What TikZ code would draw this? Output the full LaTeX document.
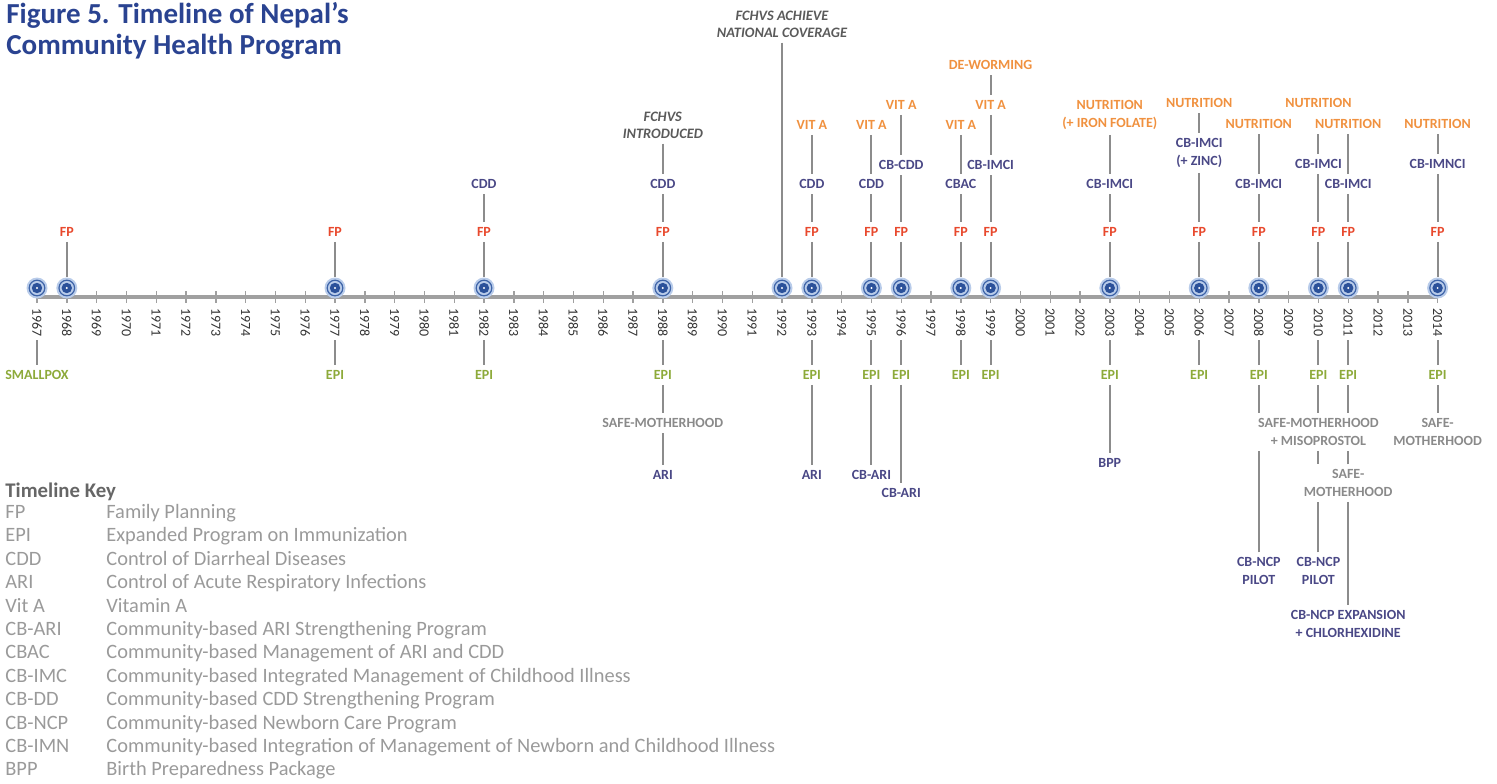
\documentclass[tikz,border=0pt]{standalone}
\usepackage{fontspec}
\setmainfont{Carlito}
\usetikzlibrary{calc}

\definecolor{fpred}{HTML}{E8492D}
\definecolor{vitorange}{HTML}{F0913F}
\definecolor{progpurple}{HTML}{4A4886}
\definecolor{epigreen}{HTML}{8DAA3A}
\definecolor{smgray}{HTML}{8A8A8A}
\definecolor{fchvgray}{HTML}{5A5A5A}
\definecolor{stemgray}{HTML}{8C8C8C}
\definecolor{axisgray}{HTML}{A0A0A0}
\definecolor{titleblue}{HTML}{2A4391}
\definecolor{keygray}{HTML}{9A9A9A}
\definecolor{keyhead}{HTML}{666666}
\definecolor{dotbg}{HTML}{B9CCEA}
\definecolor{dotring}{HTML}{3E64A8}
\definecolor{dotcore}{HTML}{2B519A}

\begin{document}
\begin{tikzpicture}[x=0.5pt, y=-0.5pt,
    every node/.style={font=\fontsize{7}{8.7}\selectfont\bfseries, inner sep=2.5pt, align=center},
    stem/.style={draw=stemgray, line width=1pt},
    fplab/.style={text=fpred},
    epilab/.style={text=epigreen},
    vitlab/.style={text=vitorange},
    cblab/.style={text=progpurple},
    smlab/.style={text=smgray},
    fchvlab/.style={text=fchvgray, font=\fontsize{7.2}{8.5}\selectfont\bfseries\itshape},
    yearlab/.style={rotate=-90, anchor=west, inner sep=1.5pt, text=black!80, font=\fontsize{7}{7}\selectfont},
    yeardot/.style={circle, minimum size=10.5pt, inner sep=0pt, fill=dotbg,
      path picture={
        \draw[dotring, line width=0.6pt] (path picture bounding box.center) circle (3.9pt);
        \fill[dotcore] (path picture bounding box.center) circle (2.6pt);
        \fill[white] (path picture bounding box.center) circle (0.55pt);}},
    titlelab/.style={font=\fontsize{14.5}{15.5}\selectfont\bfseries, text=titleblue, align=left, inner sep=0pt},
    keyitem/.style={font=\fontsize{10.2}{11}\selectfont, text=keygray, inner sep=0pt},
  ]
  \useasboundingbox (0,0) rectangle (1497,783);

  \node[titlelab, anchor=north west] (title) at (6,2) {Figure 5. Timeline of Nepal’s\\Community Health Program};

  \foreach \yr in {1967,...,2014} {
    \coordinate (y\yr) at ({37+(\yr-1967)*29.8},297);
    \node[yearlab] (yl\yr) at (y\yr |- 0,305) {\yr};
  }
  \draw[axisgray, line width=1.6pt] (y1967) -- (y2014);
  \foreach \yr in {1967,...,2014}
    \draw[axisgray, line width=0.7pt] ([yshift=3pt]y\yr) -- ([yshift=-3pt]y\yr);

  \foreach \yr in {1967,1968,1977,1982,1988,1992,1993,1995,1996,1998,1999,2003,2006,2008,2010,2011,2014}
    \node[yeardot] (d\yr) at (y\yr |- 0,288) {};

  \foreach \yr in {1968,1977,1982,1988,1993,1995,1996,1998,1999,2003,2006,2008,2010,2011,2014} {
    \node[fplab] (fp\yr) at (y\yr |- 0,232) {FP};
    \draw[stem] (fp\yr) -- (d\yr);
  }
  \foreach \yr in {1977,1982,1988,1993,1995,1996,1998,1999,2003,2006,2008,2010,2011,2014} {
    \node[epilab] (epi\yr) at (y\yr |- 0,375) {EPI};
    \draw[stem] (yl\yr) -- (epi\yr);
  }
  \node[epilab] (smallpox) at (y1967 |- 0,375) {SMALLPOX};
  \draw[stem] (yl1967) -- (smallpox);

  \node[fchvlab] (fchvs1992) at (y1992 |- 0,24) {FCHVS ACHIEVE\\NATIONAL COVERAGE};
  \node[fchvlab] (fchvs1988) at (y1988 |- 0,125) {FCHVS\\INTRODUCED};
  \draw[stem] (fchvs1992) -- (d1992);

  \foreach \yr in {1982,1988,1993,1995}
    \node[cblab] (cdd\yr) at (y\yr |- 0,184) {CDD};
  \foreach \yr/\yy in {1993/125,1995/125,1996/105,1998/125,1999/105}
    \node[vitlab] (vit\yr) at (y\yr |- 0,\yy) {VIT A};
  \node[vitlab] (worm) at (y1999 |- 0,65) {DE-WORMING};
  \node[cblab] (cbcdd) at (y1996 |- 0,165) {CB-CDD};
  \node[cblab] (cbac) at (y1998 |- 0,184) {CBAC};
  \node[cblab] (imci1999) at (y1999 |- 0,165) {CB-IMCI};

  \node[vitlab] (nut2003) at (y2003 |- 0,115) {NUTRITION\\(+ IRON FOLATE)};
  \node[vitlab] (nut2006) at (y2006 |- 0,103) {NUTRITION};
  \node[vitlab] (nut2008) at (y2008 |- 0,124) {NUTRITION};
  \node[vitlab] (nut2010) at (y2010 |- 0,103) {NUTRITION};
  \node[vitlab] (nut2011) at (y2011 |- 0,124) {NUTRITION};
  \node[vitlab] (nut2014) at (y2014 |- 0,124) {NUTRITION};
  \node[cblab] (imci2003) at (y2003 |- 0,184) {CB-IMCI};
  \node[cblab] (imci2006) at (y2006 |- 0,153) {CB-IMCI\\(+ ZINC)};
  \node[cblab] (imci2008) at (y2008 |- 0,184) {CB-IMCI};
  \node[cblab] (imci2010) at (y2010 |- 0,164) {CB-IMCI};
  \node[cblab] (imci2011) at (y2011 |- 0,184) {CB-IMCI};
  \node[cblab] (imnci2014) at (y2014 |- 0,164) {CB-IMNCI};

  \node[smlab] (sm1988) at (y1988 |- 0,423) {SAFE-MOTHERHOOD};
  \node[cblab] (ari1988) at (y1988 |- 0,475) {ARI};
  \node[cblab] (ari1993) at (y1993 |- 0,475) {ARI};
  \node[cblab] (cbari1995) at (y1995 |- 0,475) {CB-ARI};
  \node[cblab] (cbari1996) at (y1996 |- 0,493) {CB-ARI};
  \node[cblab] (bpp) at (y2003 |- 0,463) {BPP};
  \node[smlab] (smmiso) at (y2010 |- 0,432) {SAFE-MOTHERHOOD\\+ MISOPROSTOL};
  \node[smlab] (sm2011) at (y2011 |- 0,483) {SAFE-\\MOTHERHOOD};
  \node[smlab] (sm2014) at (y2014 |- 0,432) {SAFE-\\MOTHERHOOD};
  \node[cblab] (pilot2008) at (y2008 |- 0,571) {CB-NCP\\PILOT};
  \node[cblab] (pilot2010) at (y2010 |- 0,571) {CB-NCP\\PILOT};
  \node[cblab] (expansion) at (y2011 |- 0,624) {CB-NCP EXPANSION\\+ CHLORHEXIDINE};

  \foreach \a/\b in {fchvs1988/cdd1988, cdd1982/fp1982, cdd1988/fp1988, vit1993/cdd1993, cdd1993/fp1993,
      vit1995/cdd1995, cdd1995/fp1995, vit1996/cbcdd, cbcdd/fp1996, vit1998/cbac, cbac/fp1998,
      worm/vit1999, vit1999/imci1999, imci1999/fp1999, nut2003/imci2003, imci2003/fp2003,
      nut2006/imci2006, imci2006/fp2006, nut2008/imci2008, imci2008/fp2008, imci2010/fp2010,
      nut2011/imci2011, imci2011/fp2011, nut2014/imnci2014, imnci2014/fp2014,
      epi1988/sm1988, sm1988/ari1988, epi1993/ari1993, epi1995/cbari1995, epi1996/cbari1996,
      epi2003/bpp, epi2014/sm2014, epi2010/smmiso, sm2011/expansion}
    \draw[stem] (\a) -- (\b);
  \draw[stem] (imci2010) -- (imci2010 |- nut2011.south);
  \draw[stem] (epi2008) -- (epi2008 |- smmiso.north);
  \draw[stem] (pilot2008) -- (pilot2008 |- smmiso.south);
  \draw[stem] (smmiso) -- (smmiso |- sm2011.north);
  \draw[stem] (pilot2010) -- (pilot2010 |- sm2011.south);
  \draw[stem] (epi2011) -- (epi2011 |- smmiso.north);
  \draw[stem] (sm2011) -- (sm2011 |- smmiso.south);

  \node[keyitem, anchor=base west, font=\fontsize{10.4}{11}\selectfont\bfseries, text=keyhead] (keyhead) at (5,497) {Timeline Key};
  \foreach \ab/\txt [count=\i] in {FP/Family Planning, EPI/Expanded Program on Immunization,
      CDD/Control of Diarrheal Diseases, ARI/Control of Acute Respiratory Infections, Vit A/Vitamin A,
      CB-ARI/Community-based ARI Strengthening Program, CBAC/Community-based Management of ARI and CDD,
      CB-IMC/Community-based Integrated Management of Childhood Illness,
      CB-DD/Community-based CDD Strengthening Program, CB-NCP/Community-based Newborn Care Program,
      CB-IMN/Community-based Integration of Management of Newborn and Childhood Illness,
      BPP/Birth Preparedness Package} {
    \node[keyitem, anchor=base west] (ka\i) at (5,{495+23.4*\i}) {\ab};
    \node[keyitem, anchor=base west] (kt\i) at (106,{495+23.4*\i}) {\txt};
  }
\end{tikzpicture}
\end{document}
